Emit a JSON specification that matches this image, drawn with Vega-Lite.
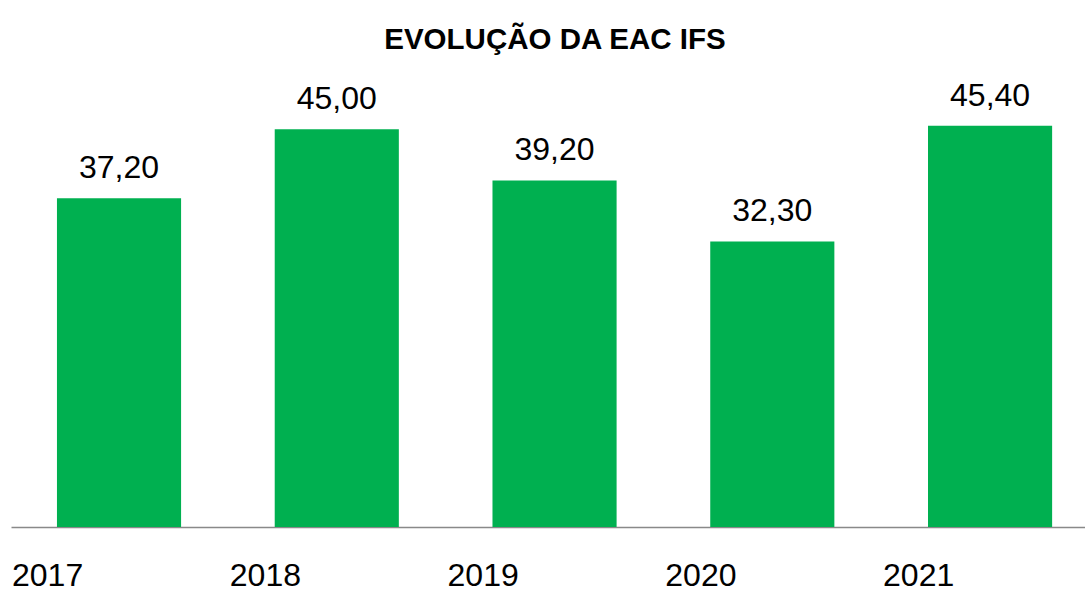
{
  "$schema": "https://vega.github.io/schema/vega-lite/v6.json",
  "width": 1074,
  "height": 442,
  "autosize": {"type": "none"},
  "padding": {"left": 11, "top": 85, "right": 0, "bottom": 62},
  "background": "white",
  "config": {
    "view": {"stroke": null},
    "font": "Liberation Sans",
    "locale": {"number": {"decimal": ",", "thousands": ".", "grouping": [3], "currency": ["R$", ""]}}
  },
  "title": {
    "text": "EVOLUÇÃO DA EAC IFS",
    "font": "Liberation Sans",
    "fontSize": 29.5,
    "fontWeight": "bold",
    "color": "#000000",
    "anchor": "middle",
    "frame": "group",
    "baseline": "alphabetic",
    "offset": 1,
    "dx": 7
  },
  "data": {
    "values": [
      {"ano": "2017", "valor": 37.2},
      {"ano": "2018", "valor": 45.0},
      {"ano": "2019", "valor": 39.2},
      {"ano": "2020", "valor": 32.3},
      {"ano": "2021", "valor": 45.4}
    ]
  },
  "encoding": {
    "x": {
      "field": "ano",
      "type": "nominal",
      "scale": {"paddingInner": 0.43, "paddingOuter": 0.181, "align": 0.583},
      "axis": {
        "title": null,
        "labelAngle": 0,
        "ticks": false,
        "labelAlign": "left",
        "labelOffset": -107,
        "labelBaseline": "alphabetic",
        "labelPadding": 58,
        "labelFontSize": 32,
        "labelColor": "#000000",
        "labelFont": "Liberation Sans",
        "labelOverlap": false,
        "labelBound": false,
        "domainColor": "#898989",
        "domainWidth": 1.5
      }
    },
    "y": {
      "field": "valor",
      "type": "quantitative",
      "scale": {"domain": [0, 50], "nice": false},
      "axis": null
    }
  },
  "layer": [
    {"mark": {"type": "bar", "color": "#00B050"}},
    {
      "mark": {"type": "text", "baseline": "alphabetic", "dy": -20, "fontSize": 32, "color": "#000000", "font": "Liberation Sans"},
      "encoding": {"text": {"field": "valor", "type": "quantitative", "format": ".2f"}}
    }
  ]
}
